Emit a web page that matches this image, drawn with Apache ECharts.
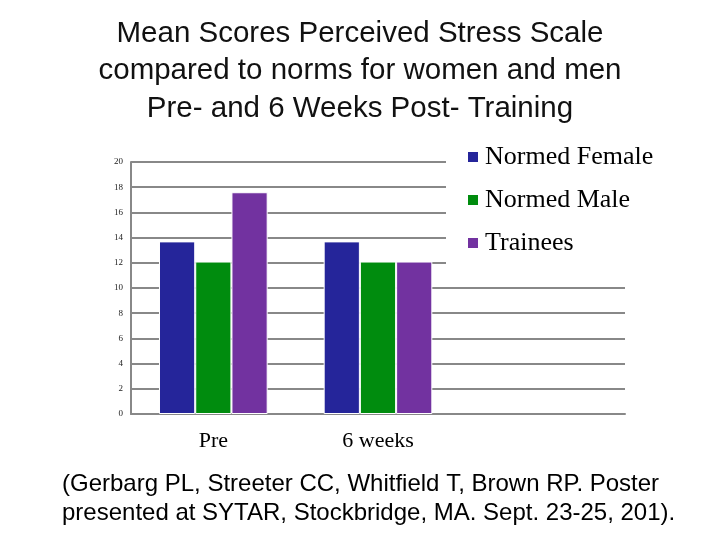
<!DOCTYPE html>
<html><head><meta charset="utf-8">
<script src="https://cdn.jsdelivr.net/npm/echarts@6/dist/echarts.min.js"></script>
<style>html,body{margin:0;padding:0;background:#fff}#c{width:720px;height:540px}</style>
</head><body><div id="c"></div>
<script>
const categories = ['Pre', '6 weeks', ''];
const seriesNames = ['Normed Female', 'Normed Male', 'Trainees'];
const normedFemale = [13.7, 13.7, null];
const normedMale = [12.1, 12.1, null];
const trainees = [17.6, 12.1, null];
const yTicks = [0, 2, 4, 6, 8, 10, 12, 14, 16, 18, 20];
const titleLines = ['Mean Scores Perceived Stress Scale', 'compared to norms for women and men', 'Pre- and 6 Weeks Post- Training'];
const footLines = ['(Gerbarg PL, Streeter CC, Whitfield T, Brown RP. Poster', 'presented at SYTAR, Stockbridge, MA. Sept. 23-25, 201).'];
const colors = ['#25259A', '#008C0E', '#7232A0'];

const chart = echarts.init(document.getElementById('c'), null, {renderer: 'canvas'});
const values = [normedFemale, normedMale, trainees];
chart.setOption({
  animation: false,
  backgroundColor: '#fff',
  title: {
    text: titleLines.join('\n'),
    left: 'center', top: 10,
    textStyle: {fontFamily: 'Liberation Sans', fontWeight: 'normal', fontSize: 29.5, lineHeight: 37.5, color: '#111'}
  },
  legend: {
    orient: 'vertical', left: 446, top: 139,
    backgroundColor: '#fff',
    padding: [5, 10, 10, 20],
    itemWidth: 12, itemHeight: 12, itemGap: 17,
    icon: 'rect',
    textStyle: {fontFamily: 'Liberation Serif', fontSize: 26, color: '#000', padding: [0, 0, 0, 1]},
    data: seriesNames
  },
  grid: {left: 131, right: 95, top: 162, bottom: 126},
  xAxis: {
    type: 'category', data: categories,
    axisLine: {lineStyle: {color: '#888', width: 2}},
    axisTick: {show: false},
    axisLabel: {fontFamily: 'Liberation Serif', fontSize: 22, color: '#000', margin: 16}
  },
  yAxis: {
    type: 'value', min: 0, max: 20, interval: 2,
    axisLine: {show: true, lineStyle: {color: '#888', width: 2}},
    axisTick: {show: false},
    splitLine: {lineStyle: {color: '#888', width: 2}},
    axisLabel: {fontFamily: 'Liberation Serif', fontSize: 9, color: '#222', margin: 8,
      formatter: v => yTicks.includes(v) ? String(v) : ''}
  },
  series: seriesNames.map((n, i) => ({
    name: n, type: 'bar', data: values[i],
    barGap: '0%', barCategoryGap: '34%',
    itemStyle: {color: colors[i], borderColor: '#fff', borderWidth: 1}
  })),
  graphic: footLines.map((t, i) => ({
    type: 'text', left: 62, top: 472 + i * 29,
    style: {text: t, fontFamily: 'Liberation Sans', fontSize: 24, fill: '#000'}
  }))
});
</script></body></html>
